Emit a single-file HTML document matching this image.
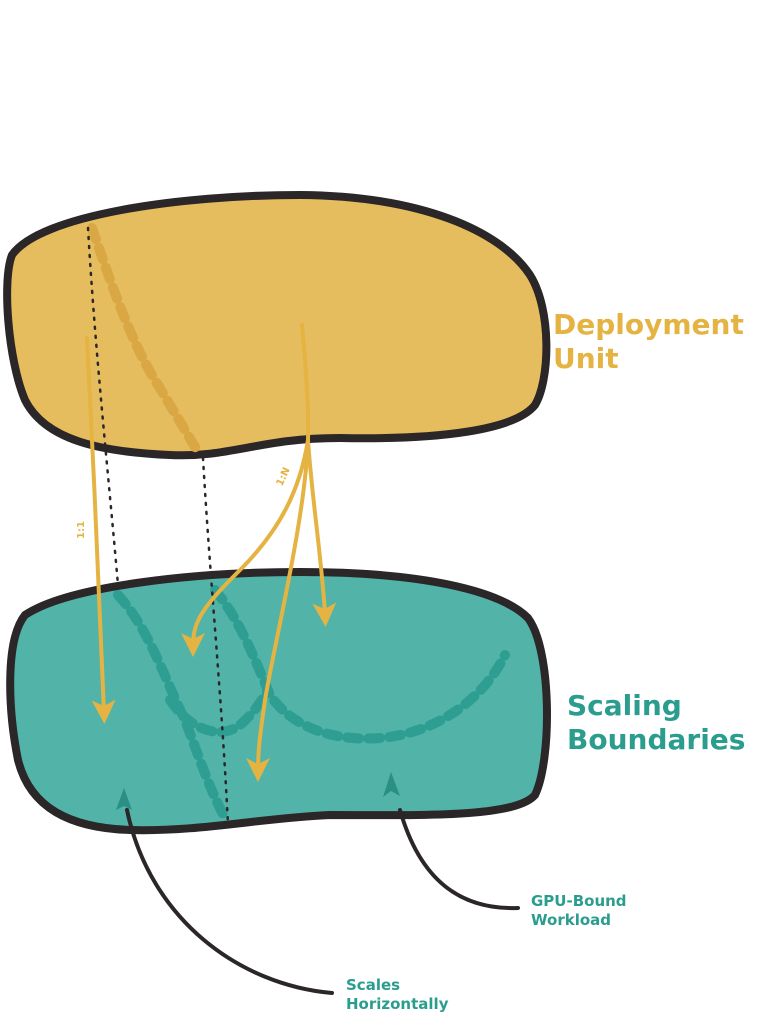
<!DOCTYPE html>
<html><head><style>
body{margin:0;background:#fff;}
svg{display:block;font-family:"DejaVu Sans","Liberation Sans",sans-serif;font-weight:bold;}
</style></head><body>
<svg width="767" height="1023" viewBox="0 0 767 1023" xmlns="http://www.w3.org/2000/svg">
<defs>
<marker id="ay" markerWidth="6" markerHeight="6" refX="3" refY="3" orient="auto" markerUnits="strokeWidth">
<path d="M0,0 L6,3 L0,6 L1.5,3 Z" fill="#e4b342"/></marker>
</defs>
<path d="M12,255 C40,215 180,195 300,195 C420,196 500,230 530,275 C552,310 550,380 535,405 C515,430 440,440 340,438 C260,438 230,458 170,455 C100,452 45,440 25,400 C8,360 2,280 12,255 Z" fill="#e6bd5e" stroke="#2b2627" stroke-width="8"/>
<path d="M92,228 C110,280 130,340 155,380 C170,405 185,430 198,452" fill="none" stroke="#d9a744" stroke-width="10" stroke-dasharray="12 9" stroke-linecap="round"/>
<path d="M25,615 C70,585 200,572 300,572 C420,572 500,590 528,618 C552,650 552,760 535,795 C515,818 420,815 330,815 C260,818 200,832 130,830 C70,828 30,808 18,760 C8,710 5,640 25,615 Z" fill="#52b3a8" stroke="#2b2627" stroke-width="8"/>
<g fill="none" stroke="#2f9e92" stroke-width="10" stroke-dasharray="12 9" stroke-linecap="round">
<path d="M118,595 C150,630 165,680 185,720 C200,760 210,790 225,818"/>
<path d="M215,590 C240,620 255,660 270,695 C290,725 330,742 380,738 C430,734 480,705 505,655"/>
<path d="M170,700 C190,730 220,740 240,725 C255,712 262,700 268,690"/>
</g>
<g fill="none" stroke="#2b2627" stroke-width="2.5" stroke-dasharray="2 7" stroke-linecap="round">
<path d="M88,228 C95,350 108,470 118,585"/>
<path d="M203,458 C210,580 222,700 228,825"/>
</g>
<g fill="none" stroke="#e4b342" stroke-width="4" stroke-linecap="round">
<path d="M87,338 C93,460 100,600 104,712" marker-end="url(#ay)"/>
<path d="M302,325 C306,370 309,410 308,440 C300,490 280,530 240,570 C205,605 193,620 193,645" marker-end="url(#ay)"/>
<path d="M308,440 C305,520 275,640 265,700 C260,735 258,750 258,770" marker-end="url(#ay)"/>
<path d="M308,440 C312,500 322,560 325,615" marker-end="url(#ay)"/>
</g>
<text x="0" y="0" transform="translate(84,530) rotate(-90)" font-size="10" fill="#e4b342" text-anchor="middle">1:1</text>
<text x="0" y="0" transform="translate(286,478) rotate(-65)" font-size="10" fill="#e4b342" text-anchor="middle">1:N</text>
<g fill="none" stroke="#2b2627" stroke-width="4" stroke-linecap="round">
<path d="M518,908 C460,910 420,880 400,810"/>
<path d="M332,993 C240,985 150,920 127,810"/>
</g>
<path d="M391,772 L400,796 L391,791 L383,797 Z" fill="#2a8f85"/>
<path d="M124,788 L132,810 L124,806 L116,810 Z" fill="#2a8f85"/>
<text x="553" y="334" font-size="28" fill="#e4b342">Deployment</text>
<text x="553" y="368" font-size="28" fill="#e4b342">Unit</text>
<text x="567" y="715" font-size="28" fill="#2a9d8f">Scaling</text>
<text x="567" y="749" font-size="28" fill="#2a9d8f">Boundaries</text>
<text x="531" y="906" font-size="15" fill="#2a9d8f">GPU-Bound</text>
<text x="531" y="925" font-size="15" fill="#2a9d8f">Workload</text>
<text x="346" y="990" font-size="15" fill="#2a9d8f">Scales</text>
<text x="346" y="1009" font-size="15" fill="#2a9d8f">Horizontally</text>
</svg>
</body></html>
